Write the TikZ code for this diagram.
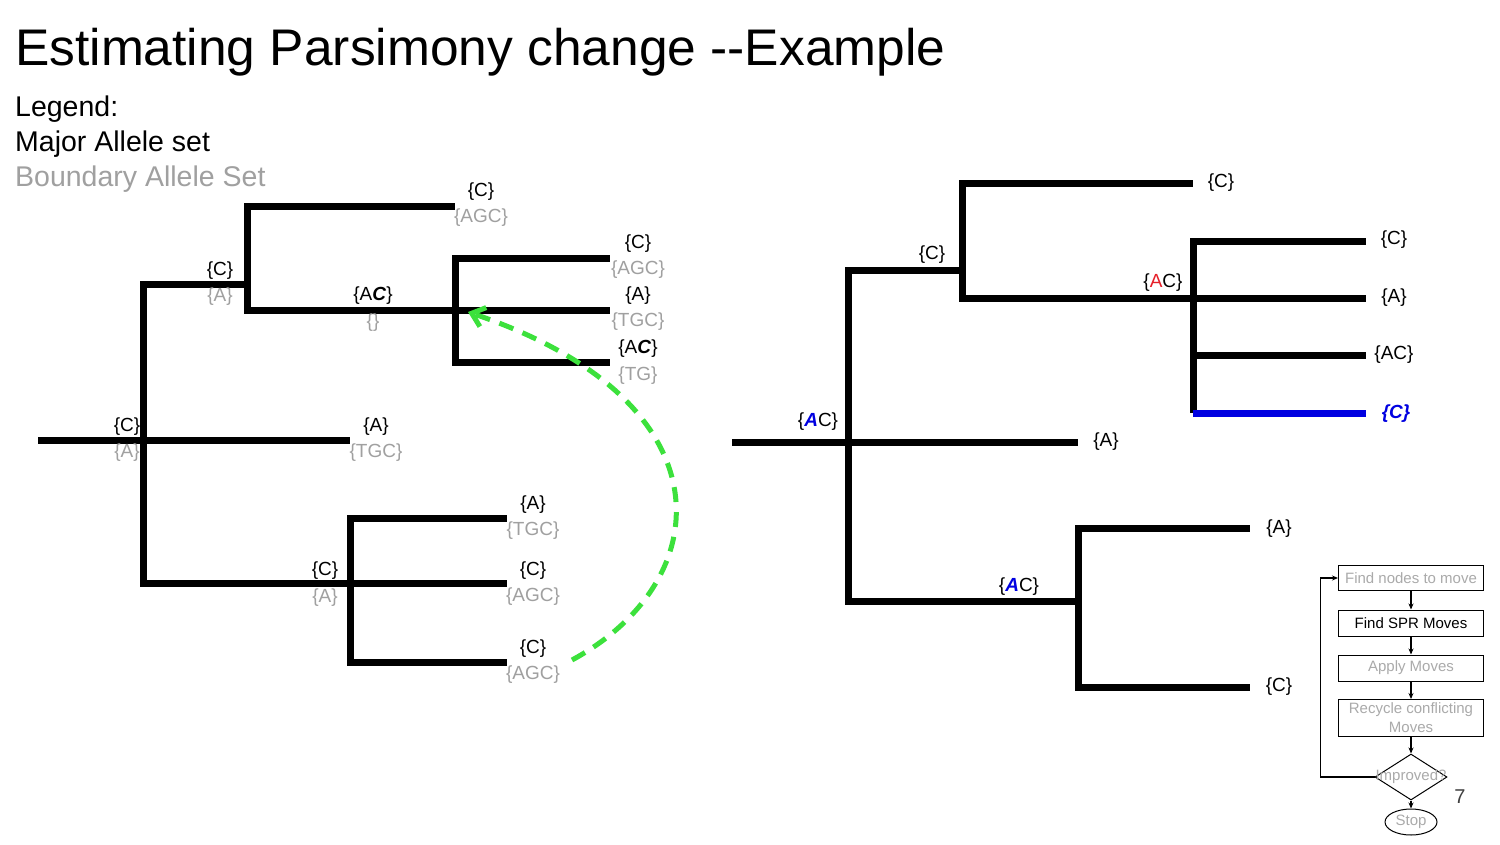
\documentclass[tikz,border=0pt]{standalone}
\usepackage{fontspec}
\setmainfont{Liberation Sans}
\usetikzlibrary{shapes.geometric,arrows.meta}
\definecolor{bgray}{RGB}{160,160,160}
\definecolor{fgray}{RGB}{170,170,170}
\definecolor{lgreen}{RGB}{60,225,60}
\definecolor{myblue}{RGB}{0,0,225}
\definecolor{myred}{RGB}{230,30,40}
\begin{document}
\begin{tikzpicture}[x=1pt,y=-1pt,
  br/.style={line width=7pt,black,line join=miter},
  lab/.style={font=\fontsize{19}{21}\selectfont,inner sep=0pt,yshift=-1.5pt},
  blab/.style={lab,text=bgray},
  fbox/.style={draw=black,line width=1pt,minimum width=145pt,inner sep=0pt,font=\fontsize{15}{19}\selectfont,align=center},
  farr/.style={line width=1.2pt,-{Stealth[length=6pt,width=5pt]}}]
\useasboundingbox[fill=white] (0,0) rectangle (1500,844);

% title & legend
\node[anchor=base west,font=\fontsize{51.5}{60}\selectfont,inner sep=0pt] (title) at (15,65) {Estimating Parsimony change -{}-Example};
\node[anchor=base west,font=\fontsize{28.5}{34}\selectfont,inner sep=0pt] (leg1) at (15,116) {Legend:};
\node[anchor=base west,font=\fontsize{28.5}{34}\selectfont,inner sep=0pt] (leg2) at (15,151) {Major Allele set};
\node[anchor=base west,font=\fontsize{28.5}{34}\selectfont,inner sep=0pt,text=bgray] (leg3) at (15,186) {Boundary Allele Set};

% ---------- left tree ----------
\coordinate (a0) at (38,440);
\coordinate (a) at (143,440);
\coordinate (la) at (350,440);
\coordinate (b) at (247,284);
\coordinate (bt) at (455,206);
\coordinate (c) at (455,310);
\coordinate (c1) at (610,258);
\coordinate (c2) at (610,310);
\coordinate (c3) at (610,362);
\coordinate (d) at (350,583);
\coordinate (d1) at (507,518);
\coordinate (d2) at (507,583);
\coordinate (d3) at (507,662);

\draw[br] (a0) -- (la);
\draw[br] (a) |- (b);
\draw[br] (a) |- (d);
\draw[br] (b) |- (bt);
\draw[br] (b) |- (c);
\draw[br] (c) |- (c1);
\draw[br] (c) -- (c2);
\draw[br] (c) |- (c3);
\draw[br] (d) |- (d1);
\draw[br] (d) -- (d2);
\draw[br] (d) |- (d3);

% left labels
\node[lab] (la1) at (127,425) {\{C\}};
\node[blab] (la2) at (127,451) {\{A\}};
\node[lab] (lb1) at (220,269) {\{C\}};
\node[blab] (lb2) at (220,295) {\{A\}};
\node[lab] (lt1) at (481,190) {\{C\}};
\node[blab] (lt2) at (481,216) {\{AGC\}};
\node[lab] (lc1) at (373,294) {\{A\textbf{\textit{C}}\}};
\node[blab] (lc2) at (373,321) {\{\}};
\node[lab] (lc11) at (638,242) {\{C\}};
\node[blab] (lc12) at (638,268) {\{AGC\}};
\node[lab] (lc21) at (638,294) {\{A\}};
\node[blab] (lc22) at (638,320) {\{TGC\}};
\node[lab] (lc31) at (638,347) {\{A\textbf{\textit{C}}\}};
\node[blab] (lc32) at (638,374) {\{TG\}};
\node[lab] (lla1) at (376,425) {\{A\}};
\node[blab] (lla2) at (376,451) {\{TGC\}};
\node[lab] (ld1) at (325,569) {\{C\}};
\node[blab] (ld2) at (325,596) {\{A\}};
\node[lab] (ld11) at (533,503) {\{A\}};
\node[blab] (ld12) at (533,529) {\{TGC\}};
\node[lab] (ld21) at (533,569) {\{C\}};
\node[blab] (ld22) at (533,595) {\{AGC\}};
\node[lab] (ld31) at (533,647) {\{C\}};
\node[blab] (ld32) at (533,673) {\{AGC\}};

% green move arrow
\coordinate (gs) at (572,660);
\coordinate (ge) at (468,312);
\draw[lgreen,line width=5pt,dash pattern=on 15pt off 10pt,
  -{Straight Barb[length=12pt,width=20pt,line width=5pt]}]
  (gs) .. controls (720,580) and (730,400) .. (ge);

% ---------- right tree ----------
\coordinate (r0) at (732,442);
\coordinate (R) at (848,442);
\coordinate (Rl) at (1078,442);
\coordinate (Rb) at (962,270);
\coordinate (Rt) at (1193,183);
\coordinate (Rc) at (1193,298);
\coordinate (Rc1) at (1366,241);
\coordinate (Rc2) at (1366,298);
\coordinate (Rc3) at (1366,355);
\coordinate (Rbl) at (1193,413);
\coordinate (Rc4) at (1366,413);
\coordinate (Rd) at (1078,601);
\coordinate (Rd1) at (1250,528);
\coordinate (Rd2) at (1250,687);

\draw[br] (r0) -- (Rl);
\draw[br] (R) |- (Rb);
\draw[br] (R) |- (Rd);
\draw[br] (Rb) |- (Rt);
\draw[br] (Rb) |- (Rc);
\draw[br] (Rc) |- (Rc1);
\draw[br] (Rc) -- (Rc2);
\draw[br] (Rc) |- (Rc3);
\draw[br] (Rc) -- (Rbl);
\draw[br,myblue] (Rbl) -- (Rc4);
\draw[br] (Rd) |- (Rd1);
\draw[br] (Rd) |- (Rd2);

\node[lab] (rl0) at (818,420) {\{\textcolor{myblue}{\textbf{\textit{A}}}C\}};
\node[lab] (rlb) at (932,253) {\{C\}};
\node[lab] (rlt) at (1221,181) {\{C\}};
\node[lab] (rlc) at (1163,281) {\{\textcolor{myred}{A}C\}};
\node[lab] (rlc1) at (1394,238) {\{C\}};
\node[lab] (rlc2) at (1394,296) {\{A\}};
\node[lab] (rlc3) at (1394,353) {\{AC\}};
\node[lab,text=myblue] (rlc4) at (1396,412) {\textbf{\textit{\{C\}}}};
\node[lab] (rll) at (1106,440) {\{A\}};
\node[lab] (rld) at (1019,585) {\{\textcolor{myblue}{\textbf{\textit{A}}}C\}};
\node[lab] (rld1) at (1279,527) {\{A\}};
\node[lab] (rld2) at (1279,685) {\{C\}};

% ---------- flowchart ----------
\node[fbox,minimum height=25pt,text=fgray] (f1) at (1411,578) {Find nodes to move};
\node[fbox,minimum height=26pt] (f2) at (1411,623) {Find SPR Moves};
\node[fbox,minimum height=26pt,text=fgray] (f3) at (1411,668) {Apply Moves};
\node[fbox,minimum height=37pt,text=fgray] (f4) at (1411,718) {Recycle conflicting\\Moves};
\node[draw=black,line width=1pt,diamond,minimum width=72pt,minimum height=46pt,inner sep=0pt] (dia) at (1411,777) {};
\node[font=\fontsize{15}{19}\selectfont,text=fgray,inner sep=0pt] (diat) at (1411,777) {Improved?};
\node[draw=black,line width=1pt,ellipse,minimum width=52pt,minimum height=26pt,inner sep=0pt,font=\fontsize{15}{19}\selectfont,text=fgray] (stop) at (1411,822) {Stop};
\draw[farr] (f1) -- (f2);
\draw[farr] (f2) -- (f3);
\draw[farr] (f3) -- (f4);
\draw[farr] (f4) -- (dia);
\draw[farr] (dia) -- (stop);
\draw[farr] (dia.west) -- ++(-54,0) |- (f1.west);
\node[font=\fontsize{20}{24}\selectfont,text=black!75,inner sep=0pt] (pnum) at (1460,797) {7};
\end{tikzpicture}
\end{document}
